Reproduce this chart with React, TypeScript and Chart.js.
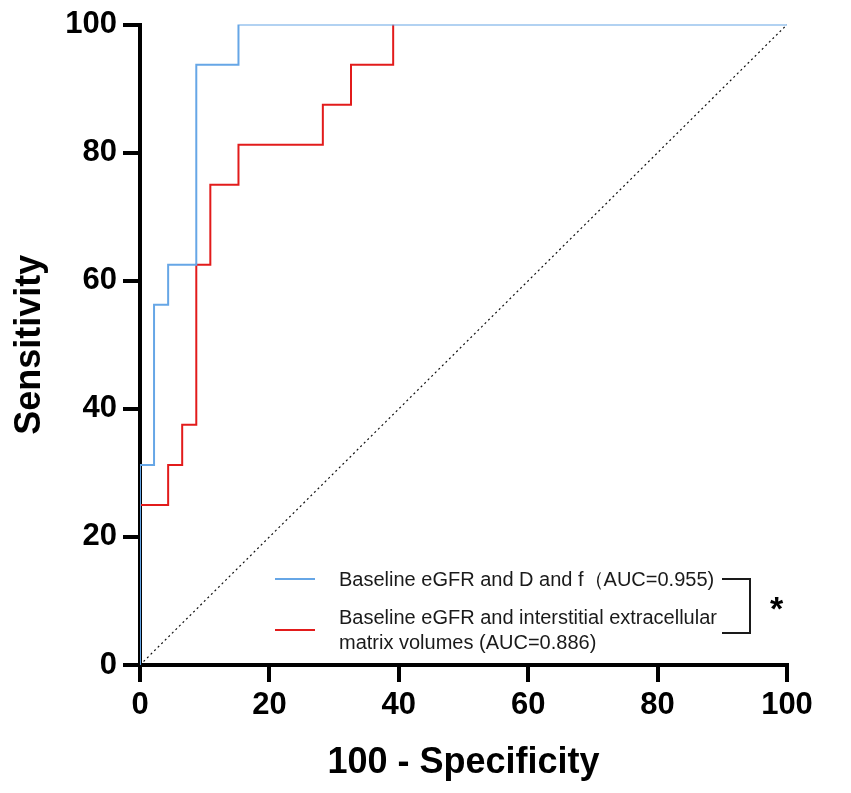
import { useEffect, useRef } from "react";
import Chart from "chart.js/auto";

// ROC points (stepped): 1 - specificity (%) and sensitivity (%)
const blueFpr = [0, 0, 2.17, 4.35, 8.7, 15.22, 100];
const blueTpr = [0, 31.25, 56.25, 62.5, 93.75, 100, 100];
// red curve reaches 100 at 39.13; beyond that it is hidden under the blue one
const redFpr = [0, 0, 4.35, 6.52, 8.7, 10.87, 15.22, 28.26, 32.61, 39.13];
const redTpr = [0, 25, 31.25, 37.5, 62.5, 75, 81.25, 87.5, 93.75, 100];
const refLine = [0, 100];

const blueLabel = "Baseline eGFR and D and f\uFF08AUC=0.955)";
const redLabel = ["Baseline eGFR and interstitial extracellular", "matrix volumes (AUC=0.886)"];

const BLUE = "#66a6e6";
const RED = "#e21b1b";
const FONT = "'Liberation Sans', Arial, sans-serif";

const toPoints = (xs: number[], ys: number[]) => xs.map((x, i) => ({ x, y: ys[i] }));

export default function App() {
  const canvasRef = useRef<HTMLCanvasElement>(null);
  const chartRef = useRef<Chart | null>(null);

  useEffect(() => {
    document.body.style.margin = "0";
    if (!canvasRef.current) return;
    if (chartRef.current) chartRef.current.destroy();

    chartRef.current = new Chart(canvasRef.current, {
      type: "scatter",
      data: {
        datasets: [
          {
            label: blueLabel,
            data: toPoints(blueFpr, blueTpr),
            showLine: true,
            stepped: true,
            borderColor: BLUE,
            borderWidth: 2,
            pointRadius: 0,
          },
          {
            label: redLabel.join(" "),
            data: toPoints(redFpr, redTpr),
            showLine: true,
            stepped: true,
            borderColor: RED,
            borderWidth: 2,
            pointRadius: 0,
          },
          {
            label: "reference",
            data: toPoints(refLine, refLine),
            showLine: true,
            borderColor: "#111",
            borderWidth: 1.2,
            borderDash: [2, 3],
            pointRadius: 0,
          },
        ],
      },
      options: {
        animation: false,
        responsive: false,
        layout: { padding: { left: 0, right: 64, top: 20, bottom: 2 } },
        plugins: { legend: { display: false }, tooltip: { enabled: false } },
        scales: {
          x: {
            type: "linear",
            min: 0,
            max: 100,
            afterFit: (s: any) => { s.height = 126; },
            ticks: { stepSize: 20, color: "#000", padding: 5, font: { family: FONT, size: 31, weight: "bold" } },
            grid: { drawOnChartArea: false, tickLength: 17, tickWidth: 4, tickColor: "#000", lineWidth: 4 },
            border: { color: "#000", width: 4 },
            title: {
              display: true,
              text: "100 - Specificity",
              color: "#000",
              padding: 6,
              font: { family: FONT, size: 36, weight: "bold" },
            },
          },
          y: {
            min: 0,
            max: 100,
            afterFit: (s: any) => { s.width = 140; },
            ticks: { stepSize: 20, color: "#000", padding: 6, font: { family: FONT, size: 31, weight: "bold" } },
            grid: { drawOnChartArea: false, tickLength: 17, tickWidth: 4, tickColor: "#000", lineWidth: 4 },
            border: { color: "#000", width: 4 },
            title: {
              display: true,
              text: "Sensitivity",
              color: "#000",
              padding: 8,
              font: { family: FONT, size: 36, weight: "bold" },
            },
          },
        },
      },
    });

    return () => {
      if (chartRef.current) {
        chartRef.current.destroy();
        chartRef.current = null;
      }
    };
  }, []);

  const text: React.CSSProperties = {
    position: "absolute",
    left: 339,
    fontFamily: FONT,
    fontSize: 20,
    lineHeight: "25px",
    color: "#1a1a1a",
    whiteSpace: "nowrap",
  };

  return (
    <div style={{ position: "relative", width: 851, height: 793 }}>
      <canvas ref={canvasRef} width={851} height={793} style={{ display: "block" }}></canvas>

      {/* legend */}
      <div style={{ position: "absolute", left: 275, top: 578, width: 40, height: 2, background: BLUE }} />
      <div style={{ position: "absolute", left: 275, top: 629, width: 40, height: 2, background: RED }} />
      <div style={{ ...text, top: 567 }}>{blueLabel}</div>
      <div style={{ ...text, top: 605 }}>
        {redLabel[0]}
        <br />
        {redLabel[1]}
      </div>

      {/* significance bracket */}
      <div
        style={{
          position: "absolute",
          left: 722,
          top: 578,
          width: 27,
          height: 52,
          borderTop: "2px solid #1a1a1a",
          borderRight: "2px solid #1a1a1a",
          borderBottom: "2px solid #1a1a1a",
        }}
      />
      <div style={{ position: "absolute", left: 770, top: 591, fontFamily: FONT, fontSize: 34, fontWeight: "bold", lineHeight: "34px" }}>*</div>
    </div>
  );
}
